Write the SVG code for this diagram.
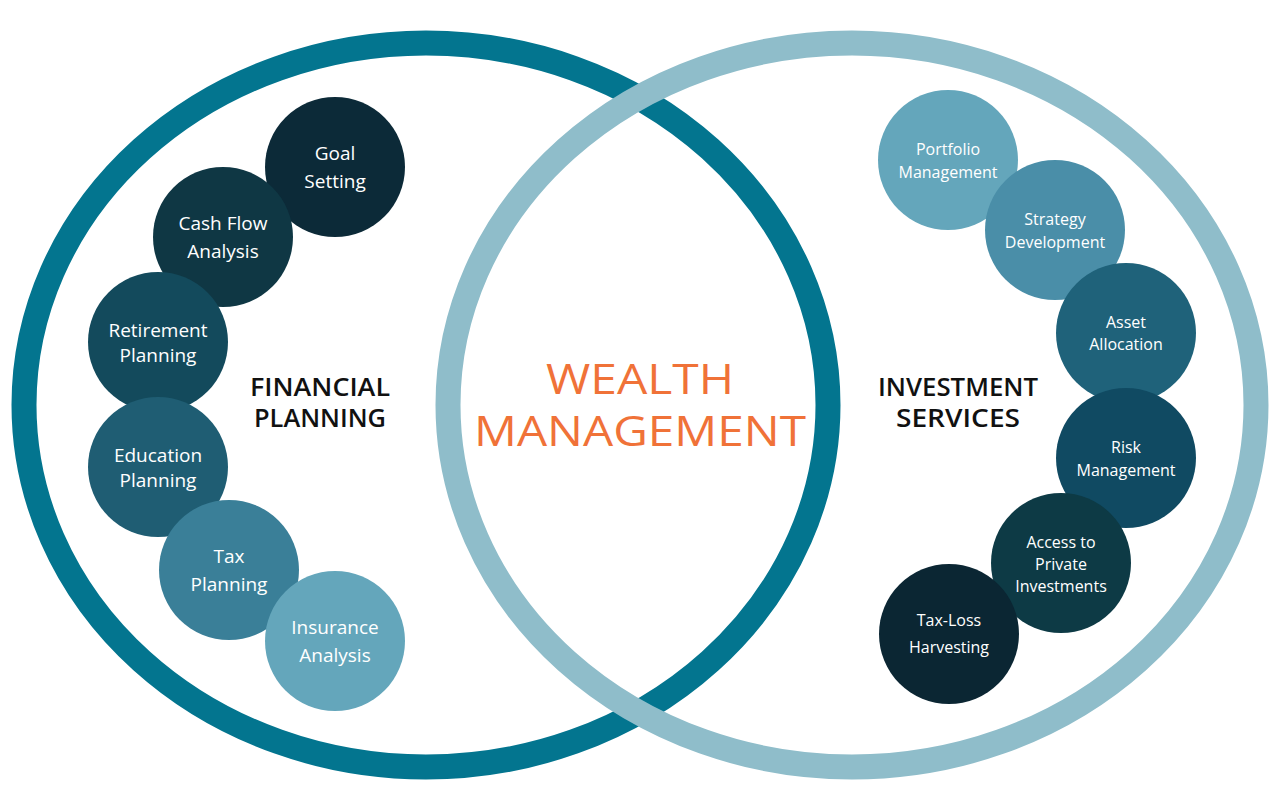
<svg xmlns="http://www.w3.org/2000/svg" width="1280" height="808" viewBox="0 0 1280 808">
<style>
.n text{font-family:"Open Sans","Noto Sans",sans-serif;fill:#fff;text-anchor:middle}
.l text{font-size:19px}
.r text{font-size:16px}
.h{font-family:"Open Sans",sans-serif;font-size:25px;font-weight:600;fill:#111;text-anchor:middle}
.w{font-family:"Open Sans",sans-serif;font-size:42px;fill:#f07238;text-anchor:middle}
</style>
<rect width="1280" height="808" fill="#fff"/>
<g id="rings" fill="none" stroke-width="25">
<ellipse cx="426" cy="405" rx="402" ry="362" stroke="#03758f"/>
<ellipse cx="852" cy="405" rx="404" ry="362" stroke="#8fbdca"/>
</g>
<g id="financial-planning-label"><text class="h" x="320" y="396" textLength="140" lengthAdjust="spacingAndGlyphs">FINANCIAL</text><text class="h" x="320" y="427" textLength="132" lengthAdjust="spacingAndGlyphs">PLANNING</text></g>
<g id="investment-label"><text class="h" x="958" y="396" textLength="160" lengthAdjust="spacingAndGlyphs">INVESTMENT</text><text class="h" x="958" y="427" textLength="124" lengthAdjust="spacingAndGlyphs">SERVICES</text></g>
<g id="wealth"><text class="w" x="640" y="394" textLength="188" lengthAdjust="spacingAndGlyphs">WEALTH</text><text class="w" x="640" y="446" textLength="332" lengthAdjust="spacingAndGlyphs">MANAGEMENT</text></g>
<g class="n l">
<g id="goal"><circle cx="335" cy="167" r="70" fill="#0c2a38"/><text x="335" y="160">Goal</text><text x="335" y="188">Setting</text></g>
<g id="cashflow"><circle cx="223" cy="237" r="70" fill="#0f3744"/><text x="223" y="230">Cash Flow</text><text x="223" y="258">Analysis</text></g>
<g id="retirement"><circle cx="158" cy="342" r="70" fill="#134a5c"/><text x="158" y="337" font-size="17">Retirement</text><text x="158" y="362" font-size="17">Planning</text></g>
<g id="education"><circle cx="158" cy="467" r="70" fill="#1f5d73"/><text x="158" y="462" font-size="17">Education</text><text x="158" y="487" font-size="17">Planning</text></g>
<g id="tax"><circle cx="229" cy="570" r="70" fill="#3a7f98"/><text x="229" y="563">Tax</text><text x="229" y="591">Planning</text></g>
<g id="insurance"><circle cx="335" cy="641" r="70" fill="#64a6bb"/><text x="335" y="634">Insurance</text><text x="335" y="662">Analysis</text></g>
</g>
<g class="n r">
<g id="portfolio"><circle cx="948" cy="160" r="70" fill="#64a6bb"/><text x="948" y="155">Portfolio</text><text x="948" y="178">Management</text></g>
<g id="strategy"><circle cx="1055" cy="230" r="70" fill="#4a8ea8"/><text x="1055" y="225">Strategy</text><text x="1055" y="248">Development</text></g>
<g id="asset"><circle cx="1126" cy="333" r="70" fill="#1f627a"/><text x="1126" y="328">Asset</text><text x="1126" y="350">Allocation</text></g>
<g id="risk"><circle cx="1126" cy="458" r="70" fill="#104a62"/><text x="1126" y="453">Risk</text><text x="1126" y="476">Management</text></g>
<g id="access"><circle cx="1061" cy="563" r="70" fill="#0d3a45"/><text x="1061" y="548">Access to</text><text x="1061" y="570">Private</text><text x="1061" y="592">Investments</text></g>
<g id="taxloss"><circle cx="949" cy="634" r="70" fill="#0b2633"/><text x="949" y="626" font-size="18">Tax-Loss</text><text x="949" y="653" font-size="18">Harvesting</text></g>
</g>
</svg>
